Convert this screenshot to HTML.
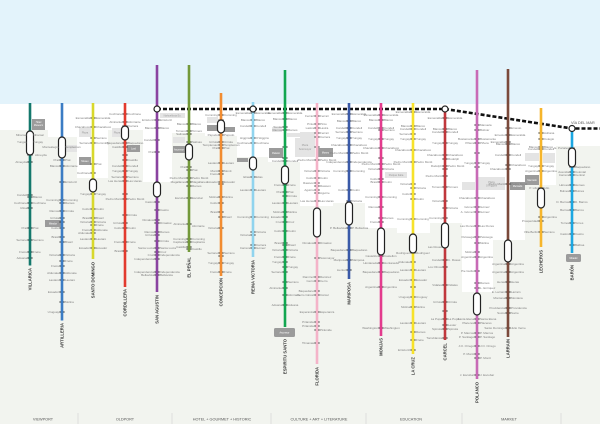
<!DOCTYPE html>
<html><head><meta charset="utf-8">
<style>
html,body{margin:0;padding:0;background:#f2f4ef;}
svg{display:block}
.s{font-family:"Liberation Sans",sans-serif;font-size:3px;fill:#7e7e7e}
.l{text-anchor:end}
.n{font-family:"Liberation Sans",sans-serif;font-size:4.2px;font-weight:bold;fill:#3a3a3a;text-anchor:end}
.c{font-family:"Liberation Sans",sans-serif;font-size:3.8px;fill:#555;text-anchor:middle}
.bx{font-family:"Liberation Sans",sans-serif;font-size:2.4px;fill:#fff;text-anchor:middle}
.lb{font-family:"Liberation Sans",sans-serif;font-size:2.6px;fill:#999;text-anchor:middle}
.cap{fill:#fff;stroke:#222;stroke-width:1.2}
.tk{stroke:#222;stroke-width:0.9;fill:none}
.ln{stroke-width:2.6;fill:none}
</style></head>
<body>
<svg width="600" height="424" viewBox="0 0 600 424" xmlns="http://www.w3.org/2000/svg">
<!-- backgrounds -->
<rect x="0" y="0" width="600" height="424" fill="#f2f4ef"/>
<rect x="0" y="0" width="600" height="104" fill="#e3f3fb"/>
<rect x="0" y="104" width="600" height="26" fill="#fff"/>
<rect x="48" y="104" width="30" height="33" fill="#fff"/>
<rect x="77" y="104" width="31" height="74" fill="#fff"/>
<rect x="143" y="104" width="29" height="78" fill="#fff"/>
<rect x="172" y="104" width="33" height="29" fill="#fff"/>
<rect x="205" y="104" width="32" height="32" fill="#fff"/>
<rect x="237" y="104" width="31" height="53" fill="#fff"/>
<rect x="268" y="104" width="32" height="58" fill="#fff"/>
<rect x="300" y="104" width="33" height="102" fill="#fff"/>
<rect x="333" y="104" width="32" height="99" fill="#fff"/>
<rect x="365" y="104" width="32" height="124" fill="#fff"/>
<rect x="397" y="104" width="33" height="129" fill="#fff"/>
<rect x="430" y="104" width="32" height="119" fill="#fff"/>
<rect x="462" y="104" width="31" height="188" fill="#fff"/>
<rect x="493" y="104" width="32" height="136" fill="#fff"/>
<rect x="525" y="104" width="31" height="81" fill="#fff"/>
<rect x="556" y="104" width="44" height="42" fill="#fff"/>

<!-- light boxes -->
<g fill="#e4e4e4">
<rect x="79" y="128" width="12" height="9"/>
<rect x="112" y="128" width="10" height="9"/>
<rect x="65" y="145" width="12" height="7"/>
<rect x="160" y="113" width="25" height="5"/>
<rect x="173" y="137" width="12" height="6"/>
<rect x="207" y="117" width="11" height="6"/>
<rect x="272" y="127" width="10" height="5"/>
<rect x="287" y="133" width="28" height="4"/>
<rect x="295" y="138" width="20" height="19"/>
<rect x="300" y="132" width="15" height="15"/>
<rect x="385" y="172" width="22" height="6"/>
<rect x="478" y="177" width="27" height="13"/>
<rect x="462" y="182" width="13" height="8"/>
<rect x="525" y="153" width="14" height="8"/>
<rect x="543" y="153" width="12" height="10"/>
</g>
<g class="lb">
<text x="85" y="133.5">Plaza</text><text x="117" y="133.5">Plaza</text>
<text x="172.5" y="116.5">Nahuelbuta Ex.</text>
<text x="305" y="146">Plaza</text><text x="305" y="150">Sotomayor</text>
<text x="396" y="176">Parque Italia</text>
<text x="491.5" y="183">Plaza</text><text x="491.5" y="186.5">O'Higgins</text>
</g>
<!-- dark boxes -->
<g fill="#9b9b9b">
<rect x="32" y="119" width="13" height="11"/>
<rect x="45" y="220" width="16" height="7"/>
<rect x="79" y="157" width="12" height="8"/>
<rect x="127" y="145" width="13" height="7"/>
<rect x="173" y="146" width="12" height="7"/>
<rect x="207" y="125" width="11" height="6"/>
<rect x="223" y="127" width="12" height="5"/>
<rect x="237" y="158" width="11" height="4"/>
<rect x="269" y="148" width="14" height="10"/>
<rect x="318" y="148" width="15" height="9"/>
<rect x="510" y="182" width="15" height="8"/>
<rect x="525" y="175" width="14" height="10"/>
<rect x="274" y="328" width="21" height="9" rx="1.5"/>
<rect x="566" y="254" width="15" height="8" rx="1.5"/>
</g>
<g class="bx">
<text x="38.5" y="123">Hotel</text><text x="38.5" y="126">Museum</text>
<text x="53" y="224.5">Mirador</text>
<text x="85" y="162">Museo</text>
<text x="133.5" y="149.5">Lord</text>
<text x="179" y="150.5">Ascensor</text>
<text x="276" y="154">Palacio</text>
<text x="325.5" y="153.5">Museo</text>
<text x="517.5" y="187">Mercado</text>
<text x="532" y="181">Mercado</text>
<text x="284.5" y="333.5">Ascensor</text>
<text x="573.5" y="259">Mirador</text>
</g>

<!-- dashed line -->
<path d="M157 109 H445 L572 128.5 H600" stroke="#111" stroke-width="2.6" fill="none" stroke-dasharray="4 2"/>
<text x="571" y="124" style="font-family:'Liberation Sans',sans-serif;font-size:3.8px;fill:#555">VÍA DEL MAR</text>

<!-- LINES -->
<!-- 1 teal -->
<path class="tk" d="M27.4 135h5.2M27.4 142h5.2M27.4 155h5.2M27.4 162h5.2M27.4 195h5.2M27.4 197h5.2M27.4 203h5.2M27.4 208h5.2M27.4 228h5.2M27.4 240h5.2M27.4 252h5.2M27.4 258h5.2"/>
<line class="ln" x1="30" y1="103" x2="30" y2="265.5" stroke="#14786c"/>
<rect class="cap" x="26.5" y="131" width="7" height="24" rx="3.5"/>
<g class="s" transform="translate(30,1)">
<g class="l"><text x="-3" y="135">Miramar</text><text x="-3" y="142">Yungay</text><text x="-3" y="162">Almeyda</text><text x="-3" y="195">Condell</text><text x="-3" y="203">Cochrane</text><text x="-3" y="208">Ulloa</text><text x="-3" y="228">Prat</text><text x="-3" y="240">Serrano</text><text x="-3" y="252">Freire</text><text x="-3" y="258">Aduana</text></g>
<text x="3" y="135">Miramar</text><text x="3" y="142">Yungay</text><text x="5" y="155">Almeyda</text><text x="3" y="197">Blanco</text><text x="3" y="203">Cochrane</text><text x="3" y="228">Prat</text><text x="3" y="240">Serrano</text><text x="3" y="252">Freire</text>
</g>
<text class="n" transform="translate(31.5,268) rotate(-90)">VILLARICA</text>

<!-- 2 blue -->
<path class="tk" d="M59.4 142h5.2M59.4 160h5.2M59.4 166h5.2M59.4 182h5.2M59.4 200h5.2M59.4 203h5.2M59.4 211h5.2M59.4 218h5.2M59.4 222h5.2M59.4 228h5.2M59.4 237h5.2M59.4 242h5.2M59.4 255h5.2M59.4 261h5.2M59.4 266h5.2M59.4 273h5.2M59.4 280h5.2M59.4 292h5.2M59.4 302h5.2M59.4 312h5.2"/>
<line class="ln" x1="62" y1="103" x2="62" y2="320.5" stroke="#3b7cc4"/>
<rect class="cap" x="58.5" y="137" width="7" height="21" rx="3.5"/>
<g class="s" transform="translate(62,1)">
<g class="l"><text x="-3" y="147">Montealegre</text><text x="-3" y="160">Prat</text><text x="-3" y="166">Blanco</text><text x="-3" y="200">Cumming</text><text x="-3" y="211">Ramos</text><text x="-3" y="218">Urriola</text><text x="-3" y="228">Colón</text><text x="-3" y="237">Brasil</text><text x="-3" y="255">Victoria</text><text x="-3" y="266">Freire</text><text x="-3" y="273">Aldunate</text><text x="-3" y="280">Lautaro</text><text x="-3" y="292">Ecuador</text><text x="-3" y="312">Uruguay</text></g>
<text x="3" y="147">Templeman</text><text x="3" y="160">Prat</text><text x="3" y="166">Almirante</text><text x="3" y="182">Errázuriz</text><text x="3" y="200">Cumming</text><text x="3" y="203">Ramos</text><text x="3" y="211">Urriola</text><text x="3" y="242">Brasil</text><text x="3" y="255">Victoria</text><text x="3" y="261">Freire</text><text x="3" y="273">Aldunate</text><text x="3" y="280">Lautaro</text><text x="3" y="302">Molina</text>
</g>
<text class="n" transform="translate(63.5,323) rotate(-90)">ARTILLERIA</text>

<!-- 3 yellow-green -->
<path class="tk" d="M90.4 118h5.2M90.4 127h5.2M90.4 138h5.2M90.4 143h5.2M90.4 164h5.2M90.4 173h5.2M90.4 194h5.2M90.4 209h5.2M90.4 218h5.2M90.4 222h5.2M90.4 225h5.2M90.4 230h5.2M90.4 233h5.2M90.4 239h5.2M90.4 248h5.2"/>
<line class="ln" x1="93" y1="103" x2="93" y2="259" stroke="#d8d82c"/>
<rect class="cap" x="89.5" y="179" width="7" height="13" rx="3.5"/>
<g class="s" transform="translate(93,1)">
<g class="l"><text x="-3" y="118">Esmeralda</text><text x="-3" y="127">Chacabuco</text><text x="-3" y="143">Serrano</text><text x="-3" y="173">Cochrane</text><text x="-3" y="194">Yungay</text><text x="-3" y="209">Colón</text><text x="-3" y="218">Brasil</text><text x="-3" y="222">Victoria</text><text x="-3" y="230">Freire</text><text x="-3" y="233">Aldunate</text><text x="-3" y="239">Lautaro</text><text x="-3" y="248">Ecuador</text></g>
<text x="3" y="118">Esmeralda</text><text x="3" y="127">Chacabuco</text><text x="3" y="138">Serrano</text><text x="3" y="143">Cumming</text><text x="3" y="164">Prat</text><text x="3" y="194">Yungay</text><text x="3" y="209">Colón</text><text x="3" y="218">Brasil</text><text x="3" y="222">Victoria</text><text x="3" y="225">Freire</text><text x="3" y="230">Aldunate</text><text x="3" y="239">Lautaro</text><text x="3" y="248">Ecuador</text>
</g>
<text class="n" transform="translate(94.5,262) rotate(-90)">SANTO DOMINGO</text>

<!-- 4 red -->
<path class="tk" d="M122.4 114h5.2M122.4 122h5.2M122.4 126h5.2M122.4 143h5.2M122.4 147h5.2M122.4 155h5.2M122.4 160h5.2M122.4 166h5.2M122.4 171h5.2M122.4 177h5.2M122.4 181h5.2M122.4 194h5.2M122.4 199h5.2M122.4 215h5.2M122.4 223h5.2M122.4 228h5.2M122.4 242h5.2M122.4 251h5.2"/>
<line class="ln" x1="125" y1="103" x2="125" y2="287" stroke="#e23a2e"/>
<rect class="cap" x="121.5" y="126" width="7" height="14" rx="3.5"/>
<g class="s" transform="translate(125,1)">
<g class="l"><text x="-3" y="114">Cochrane</text><text x="-3" y="122">Almirante</text><text x="-3" y="143">Baquedano</text><text x="-3" y="147">Castillo</text><text x="-3" y="166">Condell</text><text x="-3" y="171">Yungay</text><text x="-3" y="177">Serrano</text><text x="-3" y="181">Las Heras</text><text x="-3" y="199">Pedro Montt</text><text x="-3" y="223">Urriola</text><text x="-3" y="228">Colón</text><text x="-3" y="242">Freire</text><text x="-3" y="251">Brasil</text></g>
<text x="3" y="114">Cochrane</text><text x="3" y="122">Almirante</text><text x="3" y="126">Carrera</text><text x="3" y="143">Baquedano</text><text x="3" y="160">Castillo</text><text x="3" y="166">Condell</text><text x="3" y="171">Yungay</text><text x="3" y="177">Serrano</text><text x="3" y="181">Las Heras</text><text x="3" y="199">Pedro Montt</text><text x="3" y="215">Urriola</text><text x="3" y="228">Colón</text><text x="3" y="242">Freire</text>
</g>
<text class="n" transform="translate(126.5,289) rotate(-90)">CORDILLERA</text>

<!-- 5 purple -->
<path class="tk" d="M154.4 120h5.2M154.4 128h5.2M154.4 140h5.2M154.4 152h5.2M154.4 202h5.2M154.4 210h5.2M154.4 220h5.2M154.4 223h5.2M154.4 232h5.2M154.4 235h5.2M154.4 241h5.2M154.4 248h5.2M154.4 252h5.2M154.4 255h5.2M154.4 259h5.2M154.4 272h5.2M154.4 275h5.2"/>
<line class="ln" x1="157" y1="65" x2="157" y2="292" stroke="#8a43a0"/>
<rect class="cap" x="153.5" y="182" width="7" height="15" rx="3.5"/>
<g class="s" transform="translate(157,1)">
<g class="l"><text x="-3" y="120">Errázuriz</text><text x="-3" y="128">Blanco</text><text x="-3" y="140">Condell</text><text x="-3" y="152">Prat</text><text x="-3" y="202">Castro</text><text x="-3" y="220">Dimalow</text><text x="-3" y="232">Ramos</text><text x="-3" y="235">Urriola</text><text x="-3" y="248">Santa Lucía</text><text x="-3" y="255">Cruz</text><text x="-3" y="259">Independencia</text><text x="-3" y="272">Independencia</text><text x="-3" y="275">Bellavista</text></g>
<text x="3" y="120">Errázuriz</text><text x="3" y="128">Blanco</text><text x="3" y="210">Castro</text><text x="3" y="223">Dimalow</text><text x="3" y="232">Ramos</text><text x="3" y="241">Urriola</text><text x="3" y="248">Santa Lucía</text><text x="3" y="252">Cruz</text><text x="3" y="255">Independencia</text><text x="3" y="272">Independencia</text><text x="3" y="275">Bellavista</text>
</g>
<text class="n" transform="translate(158.5,295) rotate(-90)">SAN AGUSTIN</text>

<!-- 6 green -->
<path class="tk" d="M186.4 124h5.2M186.4 131h5.2M186.4 134h5.2M186.4 142h5.2M186.4 167h5.2M186.4 170h5.2M186.4 178h5.2M186.4 182h5.2M186.4 186h5.2M186.4 198h5.2M186.4 224h5.2M186.4 239h5.2M186.4 242h5.2M186.4 247h5.2M186.4 249h5.2"/>
<line class="ln" x1="189" y1="65" x2="189" y2="252" stroke="#73993a"/>
<rect class="cap" x="185.5" y="144" width="7" height="16" rx="3.5"/>
<g class="s" transform="translate(189,1)">
<g class="l"><text x="-3" y="124">Blanco</text><text x="-3" y="131">Tornero</text><text x="-3" y="134">Salinas</text><text x="-3" y="167">Prat</text><text x="-3" y="178">Pedro Montt</text><text x="-3" y="182">Magallanes</text><text x="-3" y="198">Escobar</text><text x="-3" y="224">Almirante</text><text x="-3" y="239">Cumming</text><text x="-3" y="242">Capitanía</text><text x="-3" y="247">Castillo</text></g>
<text x="3" y="124">Blanco</text><text x="3" y="131">Tornero</text><text x="3" y="142">Salinas</text><text x="3" y="170">Prat</text><text x="3" y="178">Pedro Montt</text><text x="3" y="182">Magallanes</text><text x="3" y="186">Ramos</text><text x="3" y="198">Escobar</text><text x="3" y="226">Almirante</text><text x="3" y="239">Cumming</text><text x="3" y="242">Capitanía</text><text x="3" y="249">Castillo</text>
</g>
<text class="n" transform="translate(190.5,257) rotate(-90)">EL PEÑAL</text>

<!-- 7 orange -->
<path class="tk" d="M218.4 115h5.2M218.4 120h5.2M218.4 135h5.2M218.4 142h5.2M218.4 145h5.2M218.4 148h5.2M218.4 163h5.2M218.4 171h5.2M218.4 174h5.2M218.4 182h5.2M218.4 184h5.2M218.4 197h5.2M218.4 203h5.2M218.4 212h5.2M218.4 217h5.2M218.4 228h5.2M218.4 253h5.2M218.4 256h5.2M218.4 263h5.2M218.4 272h5.2"/>
<line class="ln" x1="221" y1="93" x2="221" y2="276" stroke="#f28c30"/>
<rect class="cap" x="217.5" y="120" width="7" height="13" rx="3.5"/>
<g class="s" transform="translate(221,1)">
<g class="l"><text x="-3" y="115">Cumming</text><text x="-3" y="135">Papudo</text><text x="-3" y="142">Urriola</text><text x="-3" y="145">Templeman</text><text x="-3" y="148">Prat</text><text x="-3" y="163">Lautaro</text><text x="-3" y="171">Montt</text><text x="-3" y="174">Freire</text><text x="-3" y="182">Ecuador</text><text x="-3" y="197">Molina</text><text x="-3" y="203">Colón</text><text x="-3" y="212">Brasil</text><text x="-3" y="228">Victoria</text><text x="-3" y="253">Serrano</text><text x="-3" y="263">Yungay</text><text x="-3" y="272">Freire</text></g>
<text x="3" y="115">Cumming</text><text x="3" y="135">Papudo</text><text x="3" y="142">Urriola</text><text x="3" y="145">Templeman</text><text x="3" y="148">Prat</text><text x="3" y="163">Lautaro</text><text x="3" y="171">Montt</text><text x="3" y="182">Ecuador</text><text x="3" y="197">Molina</text><text x="3" y="217">Brasil</text><text x="3" y="253">Serrano</text><text x="3" y="263">Yungay</text><text x="3" y="272">Freire</text>
</g>
<text class="n" transform="translate(222.5,278) rotate(-90)">CONCEPCION</text>

<!-- 8 light blue -->
<path class="tk" d="M250.4 113h5.2M250.4 120h5.2M250.4 126h5.2M250.4 138h5.2M250.4 143h5.2M250.4 177h5.2M250.4 190h5.2M250.4 217h5.2M250.4 232h5.2M250.4 235h5.2M250.4 245h5.2M250.4 248h5.2"/>
<line class="ln" x1="253" y1="102" x2="253" y2="257" stroke="#90d4ee"/>
<rect class="cap" x="249.5" y="157" width="7" height="13" rx="3.5"/>
<g class="s" transform="translate(253,1)">
<g class="l"><text x="-3" y="113">Esmeralda</text><text x="-3" y="120">Blanco</text><text x="-3" y="126">Condell</text><text x="-3" y="138">Higgins</text><text x="-3" y="143">Cochrane</text><text x="-3" y="177">Elías</text><text x="-3" y="190">Lautaro</text><text x="-3" y="217">Cumming</text><text x="-3" y="235">Victoria</text><text x="-3" y="248">Carrera</text></g>
<text x="3" y="113">Esmeralda</text><text x="3" y="120">Blanco</text><text x="3" y="126">Condell</text><text x="3" y="138">O'Higgins</text><text x="3" y="143">Cochrane</text><text x="3" y="177">Elías</text><text x="3" y="190">Lautaro</text><text x="3" y="217">Cumming</text><text x="3" y="232">Victoria</text><text x="3" y="245">Carrera</text><text x="3" y="248">Gómez</text>
</g>
<text class="n" transform="translate(254.5,260) rotate(-90)">REINA VICTORIA</text>

<!-- 9 green -->
<path class="tk" d="M282.4 113h5.2M282.4 119h5.2M282.4 127h5.2M282.4 130h5.2M282.4 147h5.2M282.4 158h5.2M282.4 161h5.2M282.4 185h5.2M282.4 192h5.2M282.4 196h5.2M282.4 203h5.2M282.4 212h5.2M282.4 217h5.2M282.4 222h5.2M282.4 231h5.2M282.4 243h5.2M282.4 245h5.2M282.4 250h5.2M282.4 257h5.2M282.4 262h5.2M282.4 267h5.2M282.4 272h5.2M282.4 282h5.2M282.4 288h5.2M282.4 295h5.2M282.4 305h5.2"/>
<line class="ln" x1="285" y1="70" x2="285" y2="327" stroke="#12a650"/>
<rect class="cap" x="281.5" y="166" width="7" height="18" rx="3.5"/>
<g class="s" transform="translate(285,1)">
<g class="l"><text x="-3" y="113">Esmeralda</text><text x="-3" y="119">Blanco</text><text x="-3" y="127">Tomás</text><text x="-3" y="130">Ramos</text><text x="-3" y="161">Condell</text><text x="-3" y="185">Freire</text><text x="-3" y="192">Prat</text><text x="-3" y="203">Lautaro</text><text x="-3" y="212">Molina</text><text x="-3" y="217">Ecuador</text><text x="-3" y="222">Cruz</text><text x="-3" y="231">Colón</text><text x="-3" y="243">Brasil</text><text x="-3" y="250">Victoria</text><text x="-3" y="257">Freire</text><text x="-3" y="262">Yungay</text><text x="-3" y="272">Serrano</text><text x="-3" y="288">Almirante</text><text x="-3" y="305">Aduana</text></g>
<text x="3" y="113">Esmeralda</text><text x="3" y="119">Blanco</text><text x="3" y="130">Ramos</text><text x="3" y="161">Condell</text><text x="3" y="185">Freire</text><text x="3" y="192">Prat</text><text x="3" y="196">Urriola</text><text x="3" y="203">Lautaro</text><text x="3" y="212">Molina</text><text x="3" y="222">Cruz</text><text x="3" y="231">Colón</text><text x="3" y="245">Brasil</text><text x="3" y="250">Victoria</text><text x="3" y="257">Freire</text><text x="3" y="267">Yungay</text><text x="3" y="282">Serrano</text><text x="3" y="295">Almirante</text><text x="3" y="305">Aduana</text>
</g>
<text class="n" transform="translate(286.5,339) rotate(-90)">ESPIRITU SANTO</text>

<!-- 10 pink -->
<path class="tk" d="M314.4 116h5.2M314.4 124h5.2M314.4 128h5.2M314.4 133h5.2M314.4 137h5.2M314.4 147h5.2M314.4 160h5.2M314.4 171h5.2M314.4 178h5.2M314.4 183h5.2M314.4 186h5.2M314.4 190h5.2M314.4 193h5.2M314.4 201h5.2M314.4 243h5.2M314.4 258h5.2M314.4 277h5.2M314.4 281h5.2M314.4 291h5.2M314.4 295h5.2M314.4 312h5.2M314.4 322h5.2M314.4 326h5.2M314.4 330h5.2M314.4 343h5.2"/>
<line class="ln" x1="317" y1="103" x2="317" y2="364" stroke="#f4b3c8"/>
<rect class="cap" x="313.5" y="208" width="7" height="29" rx="3.5"/>
<g class="s" transform="translate(317,1)">
<g class="l"><text x="-3" y="116">Ferrari</text><text x="-3" y="124">Pinto</text><text x="-3" y="128">Lastra</text><text x="-3" y="160">Pedro Montt</text><text x="-3" y="171">Victoria</text><text x="-3" y="178">Colón</text><text x="-3" y="183">Rawson</text><text x="-3" y="190">Aguirre</text><text x="-3" y="201">Las Heras</text><text x="-3" y="243">Dimalow</text><text x="-3" y="277">Ramírez</text><text x="-3" y="281">Cerro</text><text x="-3" y="291">Baquedano</text><text x="-3" y="295">Cerro Cárcel</text><text x="-3" y="312">Esperanza</text><text x="-3" y="322">Pirámide</text><text x="-3" y="326">Pirámide</text><text x="-3" y="343">Tilmanas</text></g>
<text x="3" y="116">Ferrari</text><text x="3" y="124">Pinto</text><text x="3" y="128">Lastra</text><text x="3" y="133">Ferrari</text><text x="3" y="137">Carrera</text><text x="3" y="160">Pedro Montt</text><text x="3" y="171">Victoria</text><text x="3" y="178">Colón</text><text x="3" y="186">Rawson</text><text x="3" y="193">Aguirre</text><text x="3" y="201">Las Heras</text><text x="3" y="243">Dimalow</text><text x="3" y="258">Sotomayor</text><text x="3" y="277">Ramírez</text><text x="3" y="281">Cerro</text><text x="3" y="295">Cárcel</text><text x="3" y="312">Esperanza</text><text x="3" y="330">Pirámide</text>
</g>
<text class="n" transform="translate(318.5,367) rotate(-90)">FLORIDA</text>

<!-- 11 navy -->
<path class="tk" d="M346.4 114h5.2M346.4 121h5.2M346.4 128h5.2M346.4 132h5.2M346.4 138h5.2M346.4 145h5.2M346.4 153h5.2M346.4 162h5.2M346.4 171h5.2M346.4 190h5.2M346.4 201h5.2M346.4 228h5.2M346.4 250h5.2M346.4 260h5.2M346.4 270h5.2"/>
<line class="ln" x1="349" y1="103" x2="349" y2="279" stroke="#3a5aa8"/>
<rect class="cap" x="345.5" y="202" width="7" height="23" rx="3.5"/>
<g class="s" transform="translate(349,1)">
<g class="l"><text x="-3" y="114">Esmeralda</text><text x="-3" y="121">Blanco</text><text x="-3" y="128">Condell</text><text x="-3" y="132">Serrano</text><text x="-3" y="138">Yungay</text><text x="-3" y="145">Chacabuco</text><text x="-3" y="153">Pedro Montt</text><text x="-3" y="162">Independencia</text><text x="-3" y="171">Cumming</text><text x="-3" y="190">Colón</text><text x="-3" y="228">P. Bellavista</text><text x="-3" y="250">Baquedano</text><text x="-3" y="260">Mariposa</text><text x="-3" y="270">Lientur</text></g>
<text x="3" y="114">Esmeralda</text><text x="3" y="121">Blanco</text><text x="3" y="128">Condell</text><text x="3" y="132">Serrano</text><text x="3" y="138">Yungay</text><text x="3" y="145">Chacabuco</text><text x="3" y="153">Pedro Montt</text><text x="3" y="162">Independencia</text><text x="3" y="171">Cumming</text><text x="3" y="190">Colón</text><text x="3" y="201">Victoria</text><text x="3" y="228">P. Bellavista</text><text x="3" y="250">Baquedano</text><text x="3" y="260">Mariposa</text>
</g>
<text class="n" transform="translate(350.5,282) rotate(-90)">MARIPOSA</text>

<!-- 12 magenta -->
<path class="tk" d="M378.4 115h5.2M378.4 120h5.2M378.4 128h5.2M378.4 130h5.2M378.4 139h5.2M378.4 148h5.2M378.4 158h5.2M378.4 164h5.2M378.4 169h5.2M378.4 179h5.2M378.4 182h5.2M378.4 197h5.2M378.4 207h5.2M378.4 218h5.2M378.4 222h5.2M378.4 256h5.2M378.4 263h5.2M378.4 272h5.2M378.4 287h5.2M378.4 328h5.2"/>
<line class="ln" x1="381" y1="103" x2="381" y2="336" stroke="#e33b8d"/>
<rect class="cap" x="377.5" y="228" width="7" height="27" rx="3.5"/>
<g class="s" transform="translate(381,1)">
<g class="l"><text x="-3" y="115">Esmeralda</text><text x="-3" y="120">Blanco</text><text x="-3" y="128">Condell</text><text x="-3" y="139">Yungay</text><text x="-3" y="148">Chacabuco</text><text x="-3" y="164">Pedro Montt</text><text x="-3" y="169">Victoria</text><text x="-3" y="179">Colón</text><text x="-3" y="182">Brasil</text><text x="-3" y="197">Cumming</text><text x="-3" y="207">Ramos</text><text x="-3" y="222">Freire</text><text x="-3" y="256">Castellón</text><text x="-3" y="263">Hontaneda</text><text x="-3" y="272">Baquedano</text><text x="-3" y="287">Argentina</text><text x="-3" y="328">Washington</text></g>
<text x="3" y="115">Esmeralda</text><text x="3" y="120">Blanco</text><text x="3" y="128">Condell</text><text x="3" y="130">Serrano</text><text x="3" y="139">Yungay</text><text x="3" y="148">Chacabuco</text><text x="3" y="164">Pedro Montt</text><text x="3" y="169">Victoria</text><text x="3" y="182">Colón</text><text x="3" y="197">Cumming</text><text x="3" y="218">Ramos</text><text x="3" y="256">Castellón</text><text x="3" y="263">Hontaneda</text><text x="3" y="272">Baquedano</text><text x="3" y="287">Argentina</text><text x="3" y="328">Washington</text>
</g>
<text class="n" transform="translate(382.5,338) rotate(-90)">MONJAS</text>

<!-- 13 yellow -->
<path class="tk" d="M410.4 112h5.2M410.4 126h5.2M410.4 129h5.2M410.4 134h5.2M410.4 139h5.2M410.4 150h5.2M410.4 162h5.2M410.4 184h5.2M410.4 188h5.2M410.4 194h5.2M410.4 199h5.2M410.4 219h5.2M410.4 253h5.2M410.4 262h5.2M410.4 270h5.2M410.4 280h5.2M410.4 287h5.2M410.4 297h5.2M410.4 307h5.2M410.4 323h5.2M410.4 332h5.2M410.4 340h5.2M410.4 350h5.2"/>
<line class="ln" x1="413" y1="103" x2="413" y2="354" stroke="#f7e22a"/>
<rect class="cap" x="409.5" y="234" width="7" height="19" rx="3.5"/>
<g class="s" transform="translate(413,1)">
<g class="l"><text x="-3" y="112">Esmeralda</text><text x="-3" y="126">Blanco</text><text x="-3" y="129">Condell</text><text x="-3" y="134">Serrano</text><text x="-3" y="139">Yungay</text><text x="-3" y="150">Chacabuco</text><text x="-3" y="162">Pedro Montt</text><text x="-3" y="184">Victoria</text><text x="-3" y="194">Colón</text><text x="-3" y="219">Cumming</text><text x="-3" y="253">Rodríguez</text><text x="-3" y="262">Aldunate</text><text x="-3" y="270">Lautaro</text><text x="-3" y="280">Ecuador</text><text x="-3" y="297">Uruguay</text><text x="-3" y="307">Molina</text><text x="-3" y="323">Lautaro</text><text x="-3" y="350">Errázuriz</text></g>
<text x="3" y="112">Esmeralda</text><text x="3" y="126">Blanco</text><text x="3" y="129">Condell</text><text x="3" y="139">Yungay</text><text x="3" y="150">Chacabuco</text><text x="3" y="162">Pedro Montt</text><text x="3" y="188">Victoria</text><text x="3" y="199">Colón</text><text x="3" y="219">Cumming</text><text x="3" y="253">Rodríguez</text><text x="3" y="270">Lautaro</text><text x="3" y="280">Ecuador</text><text x="3" y="297">Uruguay</text><text x="3" y="307">Molina</text><text x="3" y="323">Lautaro</text><text x="3" y="332">Ramos</text><text x="3" y="340">Freire</text>
</g>
<text class="n" transform="translate(414.5,357) rotate(-90)">LA CRUZ</text>

<!-- 14 dark red -->
<path class="tk" d="M442.4 118h5.2M442.4 129h5.2M442.4 132h5.2M442.4 143h5.2M442.4 155h5.2M442.4 159h5.2M442.4 166h5.2M442.4 169h5.2M442.4 176h5.2M442.4 187h5.2M442.4 201h5.2M442.4 208h5.2M442.4 218h5.2M442.4 247h5.2M442.4 260h5.2M442.4 267h5.2M442.4 285h5.2M442.4 302h5.2M442.4 311h5.2M442.4 319h5.2M442.4 325h5.2M442.4 329h5.2M442.4 338h5.2"/>
<line class="ln" x1="445" y1="109" x2="445" y2="340" stroke="#c0373c"/>
<rect class="cap" x="441.5" y="223" width="7" height="25" rx="3.5"/>
<g class="s" transform="translate(445,1)">
<g class="l"><text x="-3" y="118">Esmeralda</text><text x="-3" y="129">Blanco</text><text x="-3" y="132">Condell</text><text x="-3" y="143">Yungay</text><text x="-3" y="155">Chacabuco</text><text x="-3" y="166">Rudolph</text><text x="-3" y="176">Pedro Montt</text><text x="-3" y="187">Tornero</text><text x="-3" y="201">Victoria</text><text x="-3" y="218">Cumming</text><text x="-3" y="247">Las Rosas</text><text x="-3" y="260">Condell</text><text x="-3" y="267">Los Olivos</text><text x="-3" y="285">Vidales</text><text x="-3" y="302">Urriola</text><text x="-3" y="319">La Pupa</text><text x="-3" y="329">Spinola</text><text x="-3" y="338">Torreblanca</text></g>
<text x="3" y="118">Esmeralda</text><text x="3" y="129">Blanco</text><text x="3" y="132">Condell</text><text x="3" y="143">Yungay</text><text x="3" y="155">Chacabuco</text><text x="3" y="159">Rudolph</text><text x="3" y="166">Pedro Montt</text><text x="3" y="187">Tornero</text><text x="3" y="208">Victoria</text><text x="3" y="260">C. Rosas</text><text x="3" y="285">Vidales</text><text x="3" y="302">Urriola</text><text x="3" y="319">La Pupa</text><text x="3" y="325">Lester</text><text x="3" y="329">Spinola</text>
</g>
<text class="n" transform="translate(446.5,343) rotate(-90)">CARCEL</text>

<!-- 15 pink-purple -->
<path class="tk" d="M474.4 125h5.2M474.4 130h5.2M474.4 139h5.2M474.4 143h5.2M474.4 153h5.2M474.4 163h5.2M474.4 167h5.2M474.4 198h5.2M474.4 207h5.2M474.4 212h5.2M474.4 226h5.2M474.4 237h5.2M474.4 243h5.2M474.4 252h5.2M474.4 257h5.2M474.4 271h5.2M474.4 283h5.2M474.4 288h5.2M474.4 319h5.2M474.4 323h5.2M474.4 333h5.2M474.4 337h5.2M474.4 346h5.2M474.4 354h5.2M474.4 358h5.2M474.4 375h5.2"/>
<line class="ln" x1="477" y1="70" x2="477" y2="379" stroke="#c86ab6"/>
<rect class="cap" x="473.5" y="293" width="7" height="22" rx="3.5"/>
<g class="s" transform="translate(477,1)">
<g class="l"><text x="-3" y="139">Bustamante</text><text x="-3" y="143">Piñera</text><text x="-3" y="163">Yungay</text><text x="-3" y="198">Chacabuco</text><text x="-3" y="207">Gómez</text><text x="-3" y="212">A. Gómez</text><text x="-3" y="226">Las Flores</text><text x="-3" y="237">Pelosega</text><text x="-3" y="252">Molina</text><text x="-3" y="257">Argentina</text><text x="-3" y="271">Pie Guillo</text><text x="-3" y="319">Santa Elena</text><text x="-3" y="323">Placeres</text><text x="-3" y="333">P. Marcos</text><text x="-3" y="337">P. Santiago</text><text x="-3" y="346">J.O. Orrego</text><text x="-3" y="354">P. Montt</text><text x="-3" y="375">J. Escobar</text></g>
<text x="3" y="125">Manuela</text><text x="3" y="130">Bolívar</text><text x="3" y="139">Bustamante</text><text x="3" y="143">Piñera</text><text x="3" y="163">Yungay</text><text x="3" y="198">Chacabuco</text><text x="3" y="207">Gómez</text><text x="3" y="212">Gómez</text><text x="3" y="226">Las Flores</text><text x="3" y="237">Pelosega</text><text x="3" y="243">Molina</text><text x="3" y="257">Argentina</text><text x="3" y="283">Ramos</text><text x="3" y="288">L. Enríquez</text><text x="3" y="319">Santa Elena</text><text x="3" y="323">Placeres</text><text x="3" y="333">P. Marcos</text><text x="3" y="337">P. Santiago</text><text x="3" y="346">J.O. Orrego</text><text x="3" y="358">P. Montt</text><text x="3" y="375">J. Escobar</text>
</g>
<text class="n" transform="translate(478.5,382) rotate(-90)">POLANCO</text>

<!-- 16 brown -->
<path class="tk" d="M505.4 128h5.2M505.4 135h5.2M505.4 142h5.2M505.4 144h5.2M505.4 155h5.2M505.4 165h5.2M505.4 169h5.2M505.4 184h5.2M505.4 264h5.2M505.4 272h5.2M505.4 282h5.2M505.4 292h5.2M505.4 298h5.2M505.4 308h5.2M505.4 313h5.2M505.4 328h5.2"/>
<line class="ln" x1="508" y1="69" x2="508" y2="337" stroke="#7b4a3b"/>
<rect class="cap" x="504.5" y="240" width="7" height="22" rx="3.5"/>
<g class="s" transform="translate(508,1)">
<g class="l"><text x="-3" y="135">Ernesto</text><text x="-3" y="142">Esmeralda</text><text x="-3" y="144">Blanco</text><text x="-3" y="155">Condell</text><text x="-3" y="169">Chacabuco</text><text x="-3" y="184">Pedro Montt</text><text x="-3" y="264">Argentina</text><text x="-3" y="272">Argentina</text><text x="-3" y="282">Heras</text><text x="-3" y="292">E. Larraín</text><text x="-3" y="298">Montana</text><text x="-3" y="308">Providencia</text><text x="-3" y="313">Sucre</text><text x="-3" y="328">Santo Domingo</text></g>
<text x="3" y="128">Ernesto</text><text x="3" y="135">Esmeralda</text><text x="3" y="144">Blanco</text><text x="3" y="155">Condell</text><text x="3" y="165">Chacabuco</text><text x="3" y="184">Pedro Montt</text><text x="3" y="264">Argentina</text><text x="3" y="272">Argentina</text><text x="3" y="282">Heras</text><text x="3" y="292">Larraín</text><text x="3" y="298">Montana</text><text x="3" y="308">Providencia</text><text x="3" y="313">Sucre</text><text x="3" y="328">Julio Verne</text>
</g>
<text class="n" transform="translate(509.5,339) rotate(-90)">LARRAIN</text>

<!-- 17 gold -->
<path class="tk" d="M538.4 133h5.2M538.4 139h5.2M538.4 147h5.2M538.4 149h5.2M538.4 166h5.2M538.4 171h5.2M538.4 188h5.2M538.4 217h5.2M538.4 221h5.2M538.4 232h5.2"/>
<line class="ln" x1="541" y1="108" x2="541" y2="247" stroke="#f6b52b"/>
<rect class="cap" x="537.5" y="188" width="7" height="20" rx="3.5"/>
<g class="s" transform="translate(541,1)">
<g class="l"><text x="-3" y="147">Blanco</text><text x="-3" y="149">Condell</text><text x="-3" y="166">Yungay</text><text x="-3" y="171">Argentina</text><text x="-3" y="188">P. Lillo</text><text x="-3" y="221">Prosperidad</text><text x="-3" y="232">Villa Berlin</text></g>
<text x="3" y="133">Adriana</text><text x="3" y="139">Colegio</text><text x="3" y="147">Blanco</text><text x="3" y="149">Condell</text><text x="3" y="166">Yungay</text><text x="3" y="171">Argentina</text><text x="3" y="188">Lillo</text><text x="3" y="217">Argentina</text><text x="3" y="232">Serrano</text>
</g>
<text class="n" transform="translate(542.5,250) rotate(-90)">LECHEROS</text>

<!-- 18 cyan -->
<path class="tk" d="M569.4 148h5.2M569.4 167h5.2M569.4 172h5.2M569.4 175h5.2M569.4 185h5.2M569.4 191h5.2M569.4 202h5.2M569.4 210h5.2M569.4 223h5.2M569.4 234h5.2M569.4 245h5.2"/>
<line class="ln" x1="572" y1="129" x2="572" y2="253" stroke="#1ba7e2"/>
<rect class="cap" x="568.5" y="148" width="7" height="19" rx="3.5"/>
<g class="s" transform="translate(572,1)">
<g class="l"><text x="-3" y="148">E. Portales</text><text x="-3" y="172">Avenida</text><text x="-3" y="175">Carrera</text><text x="-3" y="185">Héroes</text><text x="-3" y="191">Bulnes</text><text x="-3" y="202">D. Barros</text><text x="-3" y="210">Barros</text><text x="-3" y="223">Torres</text><text x="-3" y="234">Castro</text></g>
<text x="3" y="167">Baquedano</text><text x="3" y="172">Colonial</text><text x="3" y="175">Central</text><text x="3" y="185">Héroes</text><text x="3" y="191">Bulnes</text><text x="3" y="202">D. Barros</text><text x="3" y="210">Barros</text><text x="3" y="223">Torres</text><text x="3" y="234">Castro</text><text x="3" y="245">Balboa</text>
</g>
<text class="n" transform="translate(573.5,265) rotate(-90)">BARÓN</text>

<!-- interchange circles -->
<g fill="#fff" stroke="#222" stroke-width="1.2">
<circle cx="157" cy="109" r="3"/>
<circle cx="253" cy="109" r="3"/>
<circle cx="445" cy="109" r="3"/>
<circle cx="572" cy="128.5" r="3"/>
</g>

<!-- categories -->
<g stroke="#cfcfcf" stroke-width="0.6">
<line x1="78" y1="413" x2="78" y2="424"/>
<line x1="172" y1="413" x2="172" y2="424"/>
<line x1="271" y1="413" x2="271" y2="424"/>
<line x1="366" y1="413" x2="366" y2="424"/>
<line x1="462" y1="413" x2="462" y2="424"/>
<line x1="561" y1="413" x2="561" y2="424"/>
</g>
<g class="c">
<text x="43" y="420.6">VIEWPORT</text>
<text x="125" y="420.6">OLDPORT</text>
<text x="222" y="420.6">HOTEL + GOURMET + HISTORIC</text>
<text x="319" y="420.6">CULTURE + ART + LITERATURE</text>
<text x="411" y="420.6">EDUCATION</text>
<text x="509" y="420.6">MARKET</text>
</g>
</svg>
</body></html>
